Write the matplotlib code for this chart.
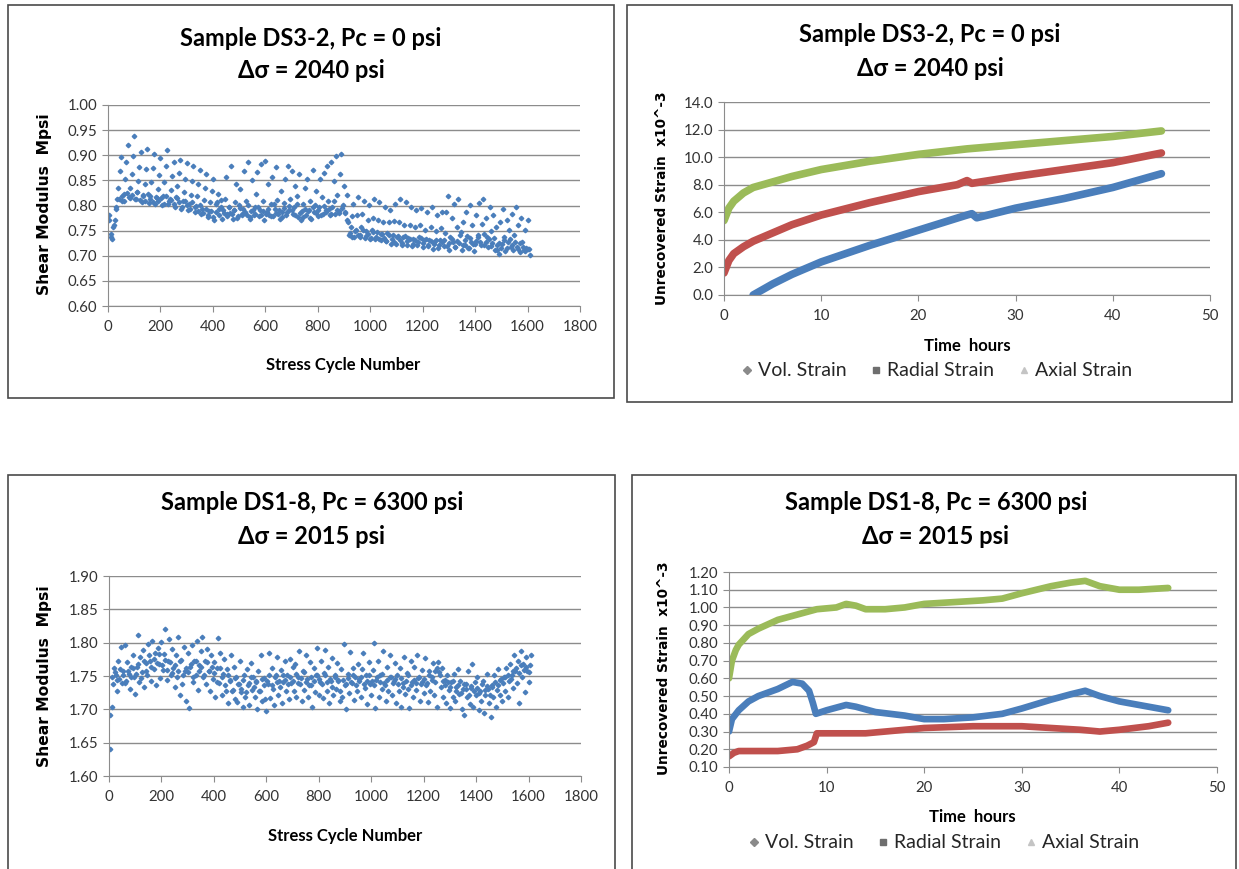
import numpy as np
import matplotlib
matplotlib.use("Agg")
import matplotlib.pyplot as plt
from matplotlib.patches import Rectangle
from matplotlib.lines import Line2D

plt.rcParams['font.family'] = ['Lato', 'DejaVu Sans']

W, H = 1239, 869

# ---- data: shear modulus vs stress cycle ----
# main read-off, one value every 5 cycles (cycles 5, 10, ... 1610)
ds32_shear = [
    0.782, 0.744, 0.733, 0.758, 0.771, 0.794, 0.812, 0.834, 0.868, 0.897,
    0.808, 0.823, 0.852, 0.887, 0.921, 0.816, 0.834, 0.862, 0.898, 0.938,
    0.812, 0.826, 0.848, 0.877, 0.906, 0.807, 0.821, 0.843, 0.872, 0.913,
    0.804, 0.818, 0.846, 0.874, 0.902, 0.803, 0.814, 0.832, 0.861, 0.894,
    0.801, 0.819, 0.847, 0.879, 0.911, 0.802, 0.812, 0.831, 0.858, 0.887,
    0.798, 0.816, 0.838, 0.864, 0.891, 0.794, 0.808, 0.827, 0.852, 0.884,
    0.791, 0.803, 0.821, 0.848, 0.879, 0.788, 0.799, 0.818, 0.843, 0.871,
    0.784, 0.793, 0.811, 0.834, 0.862, 0.778, 0.789, 0.806, 0.828, 0.853,
    0.772, 0.788, 0.806, 0.823, 0.781, 0.797, 0.774, 0.792, 0.812, 0.857,
    0.783, 0.798, 0.786, 0.878, 0.773, 0.791, 0.807, 0.842, 0.779, 0.801,
    0.832, 0.784, 0.793, 0.869, 0.808, 0.781, 0.887, 0.774, 0.789, 0.851,
    0.782, 0.797, 0.823, 0.866, 0.779, 0.791, 0.882, 0.809, 0.772, 0.889,
    0.788, 0.843, 0.781, 0.802, 0.857, 0.779, 0.794, 0.876, 0.811, 0.783,
    0.773, 0.829, 0.788, 0.804, 0.853, 0.782, 0.879, 0.792, 0.812, 0.868,
    0.784, 0.798, 0.838, 0.819, 0.777, 0.862, 0.772, 0.789, 0.803, 0.834,
    0.781, 0.852, 0.792, 0.809, 0.774, 0.871, 0.787, 0.801, 0.828, 0.779,
    0.798, 0.853, 0.817, 0.783, 0.864, 0.791, 0.879, 0.808, 0.782, 0.886,
    0.797, 0.848, 0.784, 0.898, 0.821, 0.789, 0.862, 0.902, 0.801, 0.838,
    0.786, 0.821, 0.768, 0.742, 0.758, 0.779, 0.803, 0.738, 0.752, 0.781,
    0.816, 0.741, 0.757, 0.783, 0.808, 0.736, 0.749, 0.772, 0.801, 0.734,
    0.751, 0.776, 0.812, 0.733, 0.748, 0.771, 0.806, 0.731, 0.744, 0.768,
    0.798, 0.729, 0.746, 0.767, 0.792, 0.724, 0.741, 0.769, 0.803, 0.723,
    0.739, 0.768, 0.812, 0.722, 0.738, 0.762, 0.807, 0.721, 0.736, 0.761,
    0.798, 0.719, 0.733, 0.758, 0.791, 0.721, 0.737, 0.762, 0.796, 0.718,
    0.732, 0.751, 0.787, 0.719, 0.731, 0.757, 0.797, 0.714, 0.728, 0.749,
    0.781, 0.716, 0.731, 0.756, 0.788, 0.719, 0.746, 0.787, 0.818, 0.712,
    0.738, 0.776, 0.727, 0.803, 0.718, 0.758, 0.812, 0.726, 0.748, 0.712,
    0.768, 0.721, 0.787, 0.739, 0.716, 0.801, 0.728, 0.762, 0.709, 0.723,
    0.781, 0.742, 0.804, 0.727, 0.763, 0.813, 0.721, 0.776, 0.738, 0.718,
    0.797, 0.749, 0.726, 0.782, 0.711, 0.758, 0.722, 0.703, 0.768, 0.716,
    0.793, 0.738, 0.709, 0.772, 0.727, 0.751, 0.717, 0.783, 0.712, 0.741,
    0.797, 0.718, 0.762, 0.708, 0.776, 0.728, 0.711, 0.752, 0.716, 0.771,
    0.713, 0.702,
]
# denser lower band, one value every 10 cycles (cycles 2, 12, ... 1602)
ds32_band = [
    0.771, 0.738, 0.762, 0.797, 0.812, 0.818, 0.809, 0.824, 0.815, 0.821,
    0.813, 0.826, 0.811, 0.819, 0.808, 0.822, 0.812, 0.806, 0.817, 0.809,
    0.814, 0.803, 0.819, 0.808, 0.811, 0.802, 0.815, 0.806, 0.798, 0.809,
    0.801, 0.794, 0.806, 0.797, 0.789, 0.801, 0.786, 0.793, 0.781, 0.789,
    0.778, 0.803, 0.794, 0.811, 0.786, 0.779, 0.798, 0.783, 0.791, 0.776,
    0.795, 0.782, 0.788, 0.801, 0.777, 0.792, 0.784, 0.797, 0.781, 0.789,
    0.783, 0.794, 0.779, 0.802, 0.786, 0.791, 0.778, 0.796, 0.787, 0.799,
    0.792, 0.781, 0.803, 0.786, 0.778, 0.794, 0.789, 0.776, 0.797, 0.785,
    0.791, 0.782, 0.799, 0.787, 0.794, 0.783, 0.808, 0.791, 0.786, 0.796,
    0.788, 0.771, 0.746, 0.738, 0.749, 0.742, 0.737, 0.751, 0.739, 0.743,
    0.736, 0.747, 0.738, 0.733, 0.744, 0.736, 0.729, 0.741, 0.734, 0.727,
    0.738, 0.731, 0.726, 0.739, 0.729, 0.734, 0.724, 0.731, 0.727, 0.736,
    0.726, 0.733, 0.722, 0.729, 0.724, 0.731, 0.721, 0.727, 0.732, 0.719,
    0.726, 0.734, 0.718, 0.729, 0.741, 0.722, 0.731, 0.716, 0.735, 0.724,
    0.729, 0.738, 0.721, 0.744, 0.727, 0.733, 0.719, 0.736, 0.712, 0.726,
    0.723, 0.731, 0.716, 0.734, 0.721, 0.728, 0.713, 0.726, 0.718, 0.709,
    0.714,
]

ds18_shear = [
    1.641, 1.703, 1.738, 1.762, 1.751, 1.728, 1.773, 1.746, 1.794, 1.739,
    1.758, 1.797, 1.742, 1.771, 1.753, 1.731, 1.764, 1.781, 1.748, 1.723,
    1.763, 1.812, 1.741, 1.778, 1.756, 1.789, 1.734, 1.769, 1.752, 1.798,
    1.772, 1.743, 1.803, 1.761, 1.784, 1.736, 1.792, 1.768, 1.747, 1.801,
    1.759, 1.783, 1.821, 1.744, 1.773, 1.806, 1.752, 1.791, 1.762, 1.733,
    1.781, 1.748, 1.809, 1.721, 1.774, 1.738, 1.793, 1.757, 1.712, 1.784,
    1.702, 1.763, 1.797, 1.741, 1.772, 1.751, 1.803, 1.729, 1.766, 1.787,
    1.809, 1.749, 1.773, 1.738, 1.791, 1.758, 1.727, 1.782, 1.746, 1.771,
    1.718, 1.762, 1.807, 1.739, 1.784, 1.721, 1.753, 1.776, 1.728, 1.761,
    1.709, 1.742, 1.781, 1.727, 1.764, 1.716, 1.749, 1.711, 1.738, 1.772,
    1.726, 1.703, 1.752, 1.718, 1.761, 1.737, 1.707, 1.769, 1.729, 1.748,
    1.719, 1.741, 1.701, 1.758, 1.728, 1.782, 1.712, 1.747, 1.716, 1.697,
    1.738, 1.784, 1.717, 1.762, 1.731, 1.706, 1.752, 1.779, 1.721, 1.743,
    1.759, 1.709, 1.741, 1.772, 1.728, 1.751, 1.716, 1.776, 1.739, 1.763,
    1.727, 1.768, 1.719, 1.749, 1.787, 1.738, 1.712, 1.757, 1.729, 1.781,
    1.746, 1.718, 1.771, 1.737, 1.703, 1.762, 1.726, 1.751, 1.792, 1.722,
    1.741, 1.773, 1.717, 1.754, 1.789, 1.728, 1.763, 1.709, 1.742, 1.777,
    1.721, 1.752, 1.731, 1.769, 1.744, 1.712, 1.761, 1.718, 1.798, 1.736,
    1.701, 1.753, 1.724, 1.786, 1.739, 1.762, 1.714, 1.748, 1.727, 1.768,
    1.742, 1.719, 1.761, 1.784, 1.732, 1.751, 1.708, 1.771, 1.738, 1.722,
    1.759, 1.799, 1.702, 1.744, 1.773, 1.718, 1.752, 1.731, 1.788, 1.739,
    1.712, 1.764, 1.727, 1.781, 1.748, 1.721, 1.743, 1.769, 1.709, 1.751,
    1.728, 1.762, 1.704, 1.739, 1.779, 1.723, 1.754, 1.731, 1.702, 1.772,
    1.741, 1.718, 1.764, 1.729, 1.781, 1.747, 1.713, 1.738, 1.759, 1.724,
    1.777, 1.736, 1.711, 1.758, 1.727, 1.749, 1.769, 1.721, 1.741, 1.703,
    1.771, 1.756, 1.733, 1.762, 1.718, 1.744, 1.709, 1.752, 1.729, 1.702,
    1.741, 1.719, 1.753, 1.712, 1.734, 1.761, 1.723, 1.742, 1.701, 1.731,
    1.692, 1.738, 1.719, 1.757, 1.708, 1.732, 1.768, 1.703, 1.741, 1.721,
    1.749, 1.699, 1.728, 1.712, 1.743, 1.694, 1.722, 1.753, 1.731, 1.709,
    1.689, 1.737, 1.718, 1.752, 1.703, 1.729, 1.761, 1.721, 1.746, 1.712,
    1.748, 1.728, 1.762, 1.719, 1.743, 1.768, 1.751, 1.732, 1.781, 1.757,
    1.739, 1.772, 1.709, 1.787, 1.749, 1.768, 1.726, 1.779, 1.758, 1.741,
    1.767, 1.782,
]
ds18_band = [
    1.692, 1.748, 1.756, 1.744, 1.761, 1.752, 1.739, 1.757, 1.749, 1.762,
    1.753, 1.768, 1.747, 1.772, 1.758, 1.781, 1.764, 1.776, 1.769, 1.783,
    1.767, 1.774, 1.759, 1.771, 1.754, 1.766, 1.758, 1.773, 1.751, 1.762,
    1.756, 1.768, 1.749, 1.772, 1.757, 1.764, 1.752, 1.771, 1.758, 1.763,
    1.754, 1.741, 1.762, 1.748, 1.736, 1.752, 1.744, 1.729, 1.747, 1.738,
    1.731, 1.744, 1.726, 1.739, 1.748, 1.733, 1.742, 1.728, 1.746, 1.737,
    1.743, 1.751, 1.736, 1.748, 1.741, 1.733, 1.752, 1.744, 1.738, 1.749,
    1.742, 1.753, 1.739, 1.747, 1.756, 1.741, 1.736, 1.748, 1.743, 1.751,
    1.745, 1.738, 1.752, 1.741, 1.746, 1.733, 1.749, 1.742, 1.728, 1.744,
    1.738, 1.747, 1.741, 1.752, 1.736, 1.745, 1.749, 1.738, 1.743, 1.751,
    1.742, 1.736, 1.748, 1.741, 1.753, 1.737, 1.744, 1.749, 1.739, 1.745,
    1.738, 1.747, 1.733, 1.742, 1.751, 1.736, 1.744, 1.739, 1.748, 1.741,
    1.746, 1.739, 1.752, 1.744, 1.758, 1.762, 1.751, 1.743, 1.736, 1.741,
    1.733, 1.742, 1.728, 1.736, 1.724, 1.738, 1.731, 1.722, 1.735, 1.727,
    1.732, 1.724, 1.738, 1.729, 1.735, 1.721, 1.733, 1.741, 1.736, 1.744,
    1.739, 1.748, 1.752, 1.745, 1.757, 1.762, 1.754, 1.766, 1.759, 1.763,
    1.756,
]

# ---- data: unrecovered strain vs time ----
ds32_vol_t = [3, 5, 7, 10, 15, 20, 25, 25.5, 26, 30, 35, 40, 45]
ds32_vol = [0.0, 0.8, 1.5, 2.4, 3.6, 4.7, 5.8, 5.9, 5.6, 6.3, 7.0, 7.8, 8.8]
ds32_rad_t = [0, 0.5, 1, 2, 3, 5, 7, 10, 15, 20, 24, 25, 25.5, 30, 35, 40, 45]
ds32_rad = [1.6, 2.5, 3.0, 3.5, 3.9, 4.5, 5.1, 5.8, 6.7, 7.5, 8.0, 8.3, 8.1,
            8.6, 9.1, 9.6, 10.3]
ds32_ax_t = [0, 0.5, 1, 2, 3, 5, 7, 10, 15, 20, 25, 30, 35, 40, 45]
ds32_ax = [5.4, 6.3, 6.8, 7.4, 7.8, 8.2, 8.6, 9.1, 9.7, 10.2, 10.6, 10.9,
           11.2, 11.5, 11.9]

ds18_vol_t = [0, 0.3, 1, 2, 3, 5, 6.5, 7.5, 8.2, 8.6, 8.9, 10, 12, 13, 15, 18,
              20, 22, 25, 28, 30, 33, 35, 36.5, 38, 40, 42, 45]
ds18_vol = [0.30, 0.37, 0.42, 0.47, 0.50, 0.54, 0.58, 0.57, 0.53, 0.46, 0.40,
            0.42, 0.45, 0.44, 0.41, 0.39, 0.37, 0.37, 0.38, 0.40, 0.43, 0.48,
            0.51, 0.53, 0.50, 0.47, 0.45, 0.42]
ds18_rad_t = [0, 0.5, 1, 3, 5, 7, 8, 8.7, 9, 12, 14, 16, 18, 20, 25, 30, 33,
              36, 38, 40, 43, 45]
ds18_rad = [0.16, 0.18, 0.19, 0.19, 0.19, 0.20, 0.22, 0.24, 0.29, 0.29, 0.29,
            0.30, 0.31, 0.32, 0.33, 0.33, 0.32, 0.31, 0.30, 0.31, 0.33, 0.35]
ds18_ax_t = [0, 0.3, 0.7, 1, 2, 3, 5, 7, 9, 11, 12, 13, 14, 16, 18, 20, 23,
             26, 28, 30, 33, 35, 36.5, 38, 40, 42, 45]
ds18_ax = [0.60, 0.70, 0.76, 0.79, 0.85, 0.88, 0.93, 0.96, 0.99, 1.00, 1.02,
           1.01, 0.99, 0.99, 1.00, 1.02, 1.03, 1.04, 1.05, 1.08, 1.12, 1.14,
           1.15, 1.12, 1.10, 1.10, 1.11]

BLUE = '#4A7EBB'
RED = '#C0504D'
GREEN = '#9BBB59'
GRID = '#8c8c8c'


def px_axes(fig, x0, y0, x1, y1):
    return fig.add_axes([x0 / W, 1 - y1 / H, (x1 - x0) / W, (y1 - y0) / H])


def style_axes(ax, yticks, fmt, xticks):
    ax.set_yticks(yticks)
    ax.set_ylim(yticks[0], yticks[-1])
    ax.set_yticklabels([fmt.format(v) for v in yticks])
    ax.set_xticks(xticks)
    ax.set_xlim(xticks[0], xticks[-1])
    ax.grid(True, axis='y', color=GRID, linewidth=1)
    ax.set_axisbelow(True)
    for s in ['top', 'right']:
        ax.spines[s].set_visible(False)
    for s in ['left', 'bottom']:
        ax.spines[s].set_color(GRID)
    ax.tick_params(direction='out', length=4, color=GRID, labelsize=10.8,
                   labelcolor='#333333')
    ax.tick_params(axis='x', pad=6)


def box(fig, x0, y0, x1, y1):
    fig.patches.append(Rectangle((x0 / W, 1 - y1 / H), (x1 - x0) / W, (y1 - y0) / H,
                                 transform=fig.transFigure, fill=False,
                                 edgecolor='#4a4a4a', linewidth=1.2))


def ftext(fig, x, y, s, **kw):
    fig.text(x / W, 1 - y / H, s, ha='center', va='center', **kw)


def titles(fig, cx, y1, y2, line1, line2):
    ftext(fig, cx, y1, line1, fontsize=17, fontweight='bold')
    ftext(fig, cx, y2, line2, fontsize=17, fontweight='bold')


def ylabel(fig, x, y, s, size):
    ftext(fig, x, y, s, fontsize=size, fontweight='bold', rotation=90,
          family='DejaVu Sans')


def strain_legend(fig, cx, y):
    handles = [Line2D([], [], ls='', marker='D', ms=4, color='#8a8a8a'),
               Line2D([], [], ls='', marker='s', ms=4.5, color='#6e6e6e'),
               Line2D([], [], ls='', marker='^', ms=4.5, color='#c4c4c4')]
    fig.legend(handles, ['Vol. Strain', 'Radial Strain', 'Axial Strain'],
               loc='center', bbox_to_anchor=(cx / W, 1 - y / H), ncol=3,
               frameon=False, fontsize=14, handlelength=0.5, handletextpad=0.3,
               columnspacing=1.3, labelcolor='#262626')


def shear_scatter(ax, main, band):
    cyc = np.arange(1, len(main) + 1) * 5
    ax.plot(cyc, main, ls='', marker='D', ms=2.3, color=BLUE)
    cyc_b = np.arange(len(band)) * 10 + 2
    ax.plot(cyc_b, band, ls='', marker='D', ms=2.3, color=BLUE)


fig = plt.figure(figsize=(W / 100, H / 100), dpi=100)
fig.patch.set_facecolor('white')

box(fig, 8, 5, 614, 398)
box(fig, 627, 5, 1232, 402)
box(fig, 8, 475, 615, 875)
box(fig, 632, 475, 1236, 875)

shear_ticks_x = list(range(0, 2000, 200))

# top-left: DS3-2 shear modulus
ax1 = px_axes(fig, 108, 105, 580, 306)
shear_scatter(ax1, ds32_shear, ds32_band)
style_axes(ax1, [0.60, 0.65, 0.70, 0.75, 0.80, 0.85, 0.90, 0.95, 1.00],
           '{:.2f}', shear_ticks_x)
titles(fig, 311, 38, 71, 'Sample DS3-2, Pc = 0 psi', 'Δσ = 2040 psi')
ftext(fig, 343, 365, 'Stress Cycle Number', fontsize=12, fontweight='bold')
ylabel(fig, 45, 204, 'Shear Modulus  Mpsi', 11.2)

# top-right: DS3-2 strain
ax2 = px_axes(fig, 724, 102, 1210, 295)
ax2.plot(ds32_vol_t, ds32_vol, color=BLUE, lw=5.5, solid_capstyle='round')
ax2.plot(ds32_rad_t, ds32_rad, color=RED, lw=5.5, solid_capstyle='round')
ax2.plot(ds32_ax_t, ds32_ax, color=GREEN, lw=5.5, solid_capstyle='round')
style_axes(ax2, [0, 2, 4, 6, 8, 10, 12, 14], '{:.1f}', [0, 10, 20, 30, 40, 50])
titles(fig, 930, 35, 69, 'Sample DS3-2, Pc = 0 psi', 'Δσ = 2040 psi')
ftext(fig, 967, 346, 'Time  hours', fontsize=12, fontweight='bold')
ylabel(fig, 662, 198, 'Unrecovered Strain  x10^-3', 9.8)
strain_legend(fig, 937, 371)

# bottom-left: DS1-8 shear modulus
ax3 = px_axes(fig, 109, 576, 581, 776)
shear_scatter(ax3, ds18_shear, ds18_band)
style_axes(ax3, [1.60, 1.65, 1.70, 1.75, 1.80, 1.85, 1.90], '{:.2f}',
           shear_ticks_x)
titles(fig, 312, 503, 537, 'Sample DS1-8, Pc = 6300 psi', 'Δσ = 2015 psi')
ftext(fig, 345, 836, 'Stress Cycle Number', fontsize=12, fontweight='bold')
ylabel(fig, 45, 676, 'Shear Modulus  Mpsi', 11.2)

# bottom-right: DS1-8 strain
ax4 = px_axes(fig, 729, 572, 1217, 767)
ax4.plot(ds18_vol_t, ds18_vol, color=BLUE, lw=4.8, solid_capstyle='round')
ax4.plot(ds18_rad_t, ds18_rad, color=RED, lw=4.8, solid_capstyle='round')
ax4.plot(ds18_ax_t, ds18_ax, color=GREEN, lw=4.8, solid_capstyle='round')
style_axes(ax4, [0.10, 0.20, 0.30, 0.40, 0.50, 0.60, 0.70, 0.80, 0.90, 1.00,
                 1.10, 1.20], '{:.2f}', [0, 10, 20, 30, 40, 50])
titles(fig, 936, 503, 537, 'Sample DS1-8, Pc = 6300 psi', 'Δσ = 2015 psi')
ftext(fig, 972, 817, 'Time  hours', fontsize=12, fontweight='bold')
ylabel(fig, 664, 668, 'Unrecovered Strain  x10^-3', 9.8)
strain_legend(fig, 944, 843)

fig.savefig('out.png', dpi=100, facecolor='white')
